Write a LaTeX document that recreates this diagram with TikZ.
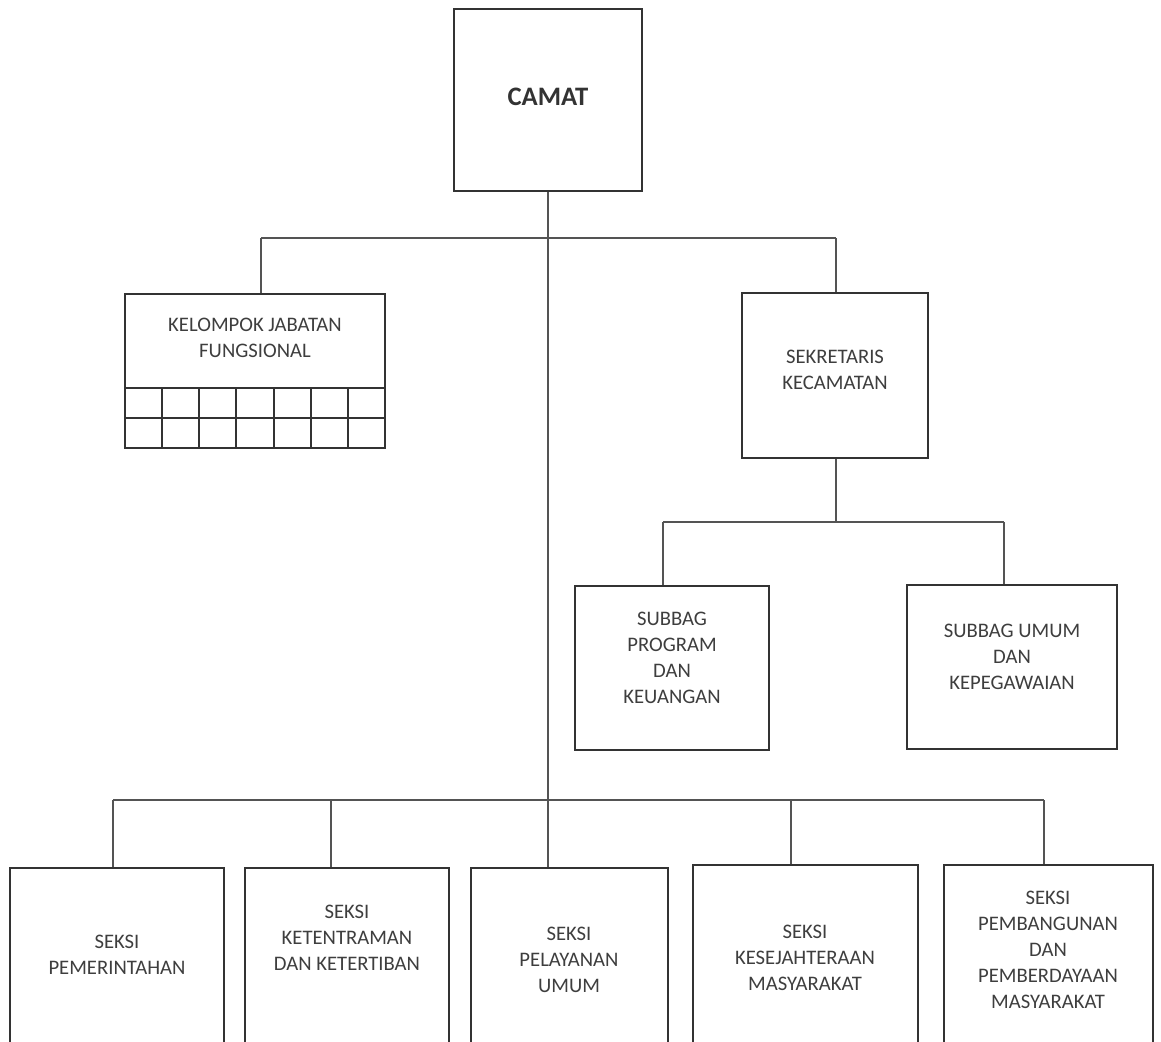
\documentclass[tikz,border=0pt]{standalone}
\usepackage{fontspec}
\setmainfont{Carlito}
\definecolor{linegray}{HTML}{545454}
\definecolor{boxgray}{HTML}{333333}
\definecolor{textgray}{HTML}{3E3E3E}

\begin{document}
\begin{tikzpicture}[x=0.75pt,y=-0.75pt,
    box/.style={draw=boxgray,line width=2.2pt,inner sep=0pt},
    cell/.style={draw=boxgray,line width=1.5pt},
    conn/.style={draw=linegray,line width=1.4pt},
    txt/.style={text=textgray,align=center,inner sep=0pt,
      font=\fontsize{15.5pt}{19.5pt}\selectfont}]
  \useasboundingbox (0,0) rectangle (1161,1042);
  \clip (0,0) rectangle (1161,1042);
  % boxes
  \node[box,minimum width=141pt,minimum height=136.5pt] (camat) at (548,100) {};
  \node[box,minimum width=195pt,minimum height=115.5pt] (kel) at (255,371) {};
  \node[box,minimum width=139.5pt,minimum height=123.75pt] (sek) at (835,375.5) {};
  \node[box,minimum width=145.5pt,minimum height=123pt] (sprog) at (672,668) {};
  \node[box,minimum width=157.5pt,minimum height=123pt] (sumum) at (1012,667) {};
  \node[box,minimum width=160.5pt,minimum height=133.5pt] (s1) at (117,957) {};
  \node[box,minimum width=153pt,minimum height=133.5pt] (s2) at (347,957) {};
  \node[box,minimum width=147.75pt,minimum height=133.5pt] (s3) at (569.5,957) {};
  \node[box,minimum width=168.75pt,minimum height=135.75pt] (s4) at (805.5,955.5) {};
  \node[box,minimum width=156.75pt,minimum height=135.75pt] (s5) at (1048.5,955.5) {};
  % labels
  \node[txt,text=boxgray,font=\fontsize{20pt}{24pt}\selectfont\bfseries] (camat-t) at (548,97) {CAMAT};
  \node[txt] (kel-t) at (255,338) {KELOMPOK JABATAN\\FUNGSIONAL};
  \node[txt] (sek-t) at (835,370) {SEKRETARIS\\KECAMATAN};
  \node[txt] (sprog-t) at (672,658) {SUBBAG\\PROGRAM\\DAN\\KEUANGAN};
  \node[txt] (sumum-t) at (1012,657) {SUBBAG UMUM\\DAN\\KEPEGAWAIAN};
  \node[txt] (s1-t) at (117,955) {SEKSI\\PEMERINTAHAN};
  \node[txt] (s2-t) at (347,938) {SEKSI\\KETENTRAMAN\\DAN KETERTIBAN};
  \node[txt] (s3-t) at (569,960) {SEKSI\\PELAYANAN\\UMUM};
  \node[txt] (s4-t) at (805,958) {SEKSI\\KESEJAHTERAAN\\MASYARAKAT};
  \node[txt] (s5-t) at (1048,950) {SEKSI\\PEMBANGUNAN\\DAN\\PEMBERDAYAAN\\MASYARAKAT};
  % grid under kelompok jabatan fungsional
  \draw[cell] (125,388) -- (385,388);
  \draw[cell] (125,418) -- (385,418);
  \foreach \k in {1,...,6}
    \draw[cell] ({125+\k*260/7},388) -- ({125+\k*260/7},448);
  % connectors
  \coordinate (tl) at (261,238);
  \coordinate (tr) at (836,238);
  \coordinate (ml) at (663,522);
  \coordinate (mr) at (1004,522);
  \coordinate (b1) at (113,800);
  \coordinate (b2) at (331,800);
  \coordinate (b4) at (791,800);
  \coordinate (b5) at (1044,800);
  \draw[conn] (camat.south) -- (camat.south |- s3.north);
  \draw[conn] (tl) -- (tr);
  \draw[conn] (tl) -- (tl |- kel.north);
  \draw[conn] (tr) -- (tr |- sek.north);
  \draw[conn] (sek.south -| tr) -- (tr |- ml);
  \draw[conn] (ml) -- (mr);
  \draw[conn] (ml) -- (ml |- sprog.north);
  \draw[conn] (mr) -- (mr |- sumum.north);
  \draw[conn] (b1) -- (b5);
  \foreach \i in {1,2,4,5}
    \draw[conn] (b\i) -- (b\i |- s\i.north);
\end{tikzpicture}
\end{document}
